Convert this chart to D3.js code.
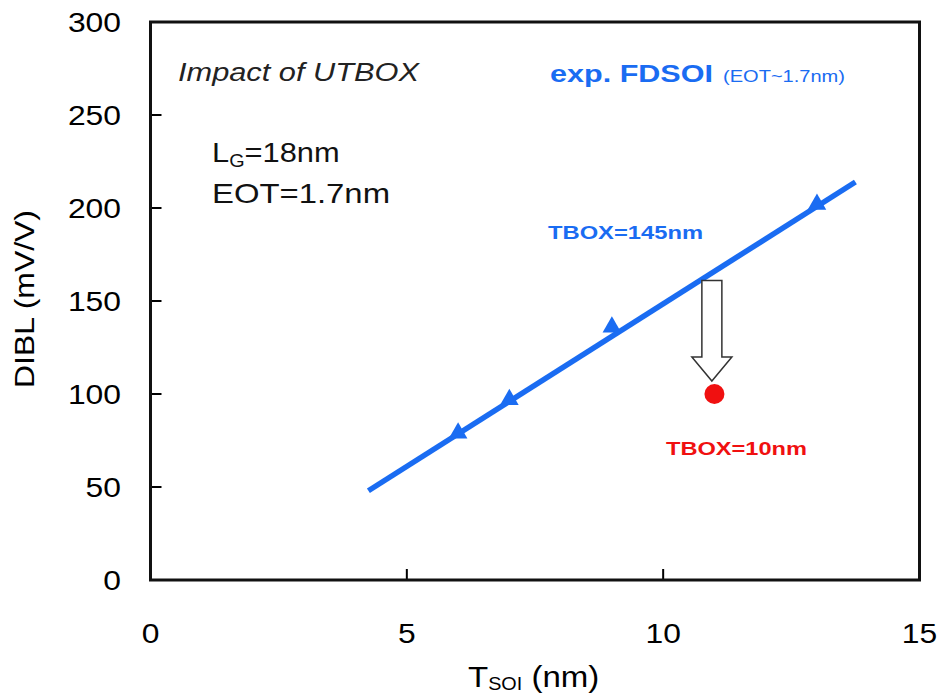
<!DOCTYPE html>
<html>
<head>
<meta charset="utf-8">
<script src="https://cdn.jsdelivr.net/npm/d3@7"></script>
<style>
  html, body { margin: 0; padding: 0; background: #fff; }
  svg { display: block; font-family: "Liberation Sans", Arial, sans-serif; }
</style>
</head>
<body>
<svg id="chart" width="940" height="695"></svg>
<script>
// Measured DIBL for FDSOI devices (TBOX = 145 nm)
const tsoi = [6, 7, 9, 13];
const dibl = [79, 97, 136, 202];
// Linear trend through the FDSOI points
const fitX = [4.25, 13.75];
const fitY = [48, 214];
// UTBOX device (TBOX = 10 nm)
const utboxX = [11];
const utboxY = [100];
// Arrow from the trend line down to the UTBOX point
const arrowX = 10.95;
const arrowFromY = 161;
const arrowToY = 107;
// Axis ticks
const xTicks = [0, 5, 10, 15];
const yTicks = [0, 50, 100, 150, 200, 250, 300];

const blue = "#1a6cf2";
const red = "#f01010";

const svg = d3.select("#chart");
const x = d3.scaleLinear().domain([0, 15]).range([150.5, 919.5]);
const y = d3.scaleLinear().domain([0, 300]).range([580, 22]);

// Inward ticks on left and bottom
const g = svg.append("g");
g.selectAll(".yt").data(yTicks.filter(d => d > 0 && d < 300)).enter()
  .append("line").attr("x1", x(0)).attr("x2", x(0) + 11)
  .attr("y1", d => y(d)).attr("y2", d => y(d))
  .attr("stroke", "#000").attr("stroke-width", 2);
g.selectAll(".xt").data(xTicks.filter(d => d > 0 && d < 15)).enter()
  .append("line").attr("x1", d => x(d)).attr("x2", d => x(d))
  .attr("y1", y(0)).attr("y2", y(0) - 11)
  .attr("stroke", "#000").attr("stroke-width", 2);

// Plot frame
svg.append("rect")
  .attr("x", x(0)).attr("y", y(300))
  .attr("width", x(15) - x(0)).attr("height", y(0) - y(300))
  .attr("fill", "none").attr("stroke", "#111").attr("stroke-width", 3);

// Tick labels
svg.selectAll(".ylab").data(yTicks).enter().append("text")
  .attr("x", 121).attr("y", d => y(d) + 10)
  .attr("text-anchor", "end").attr("font-size", 28)
  .attr("textLength", d => String(d).length * 17.7).attr("lengthAdjust", "spacingAndGlyphs")
  .text(d => d);
svg.selectAll(".xlab").data(xTicks).enter().append("text")
  .attr("x", d => x(d)).attr("y", 643)
  .attr("text-anchor", "middle").attr("font-size", 28)
  .attr("textLength", d => String(d).length * 17.7).attr("lengthAdjust", "spacingAndGlyphs")
  .text(d => d);

// Axis titles (slightly widened glyphs)
const xt = svg.append("text").attr("transform", "translate(468,687) scale(1.1,1)")
  .attr("font-size", 30);
xt.append("tspan").text("T");
xt.append("tspan").attr("font-size", 18).attr("dy", 3).text("SOI");
xt.append("tspan").attr("dy", -3).text(" (nm)");

svg.append("text")
  .attr("transform", "translate(34,299) rotate(-90)")
  .attr("text-anchor", "middle").attr("font-size", 28)
  .attr("textLength", 178).attr("lengthAdjust", "spacingAndGlyphs")
  .text("DIBL (mV/V)");

// Trend line
const line = d3.line().x(d => x(d[0])).y(d => y(d[1]));
svg.append("path")
  .datum(d3.zip(fitX, fitY))
  .attr("d", line)
  .attr("fill", "none").attr("stroke", blue).attr("stroke-width", 5.5);

// Triangle markers
svg.selectAll(".pt").data(d3.zip(tsoi, dibl)).enter().append("path")
  .attr("d", d3.symbol(d3.symbolTriangle, 150))
  .attr("transform", d => `translate(${x(d[0])},${y(d[1])})`)
  .attr("fill", blue);

// Hollow arrow
const ax = x(arrowX), arrowTop = y(arrowFromY), arrowTip = y(arrowToY);
const headBase = arrowTip - 24;
const sw = 10, hw = 20;
svg.append("path")
  .attr("d", `M${ax - sw},${arrowTop} L${ax + sw},${arrowTop} L${ax + sw},${headBase} L${ax + hw},${headBase} L${ax},${arrowTip} L${ax - hw},${headBase} L${ax - sw},${headBase} Z`)
  .attr("fill", "#fff").attr("stroke", "#333").attr("stroke-width", 1.5);

// UTBOX point
svg.selectAll(".ut").data(d3.zip(utboxX, utboxY)).enter().append("circle")
  .attr("cx", d => x(d[0])).attr("cy", d => y(d[1])).attr("r", 10)
  .attr("fill", red);

// Annotations
svg.append("text").attr("x", 178).attr("y", 81)
  .attr("font-size", 26).attr("font-style", "italic").attr("fill", "#222")
  .attr("textLength", 241).attr("lengthAdjust", "spacingAndGlyphs")
  .text("Impact of UTBOX");

const lg = svg.append("text").attr("transform", "translate(212,162) scale(1.1,1)")
  .attr("font-size", 28).attr("fill", "#111");
lg.append("tspan").text("L");
lg.append("tspan").attr("font-size", 18).attr("dy", 5).text("G");
lg.append("tspan").attr("dy", -5).text("=18nm");

svg.append("text").attr("x", 212).attr("y", 203)
  .attr("font-size", 28).attr("fill", "#111")
  .attr("textLength", 178).attr("lengthAdjust", "spacingAndGlyphs")
  .text("EOT=1.7nm");

svg.append("text").attr("x", 550).attr("y", 82)
  .attr("font-size", 23).attr("font-weight", "bold").attr("fill", blue)
  .attr("textLength", 163).attr("lengthAdjust", "spacingAndGlyphs")
  .text("exp. FDSOI");
svg.append("text").attr("x", 723).attr("y", 82)
  .attr("font-size", 17).attr("fill", blue)
  .attr("textLength", 122).attr("lengthAdjust", "spacingAndGlyphs")
  .text("(EOT~1.7nm)");

svg.append("text").attr("x", 548).attr("y", 239)
  .attr("font-size", 19).attr("font-weight", "bold").attr("fill", blue)
  .attr("textLength", 155).attr("lengthAdjust", "spacingAndGlyphs")
  .text("TBOX=145nm");

svg.append("text").attr("x", 666).attr("y", 455)
  .attr("font-size", 19).attr("font-weight", "bold").attr("fill", red)
  .attr("textLength", 141).attr("lengthAdjust", "spacingAndGlyphs")
  .text("TBOX=10nm");
</script>
</body>
</html>
